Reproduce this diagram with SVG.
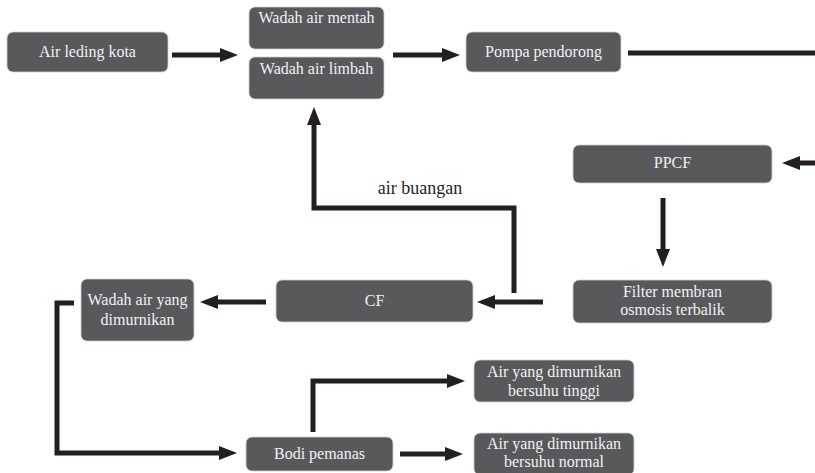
<svg xmlns="http://www.w3.org/2000/svg" width="815" height="473" viewBox="0 0 815 473">
<style>
.box{fill:#58595b;stroke:#d0d0d0;stroke-width:0.8}
.t{font-family:"Liberation Serif","Times New Roman",serif;font-size:16px;fill:#f2f2f2;text-anchor:middle}
.lbl{font-family:"Liberation Serif","Times New Roman",serif;font-size:18px;fill:#231f20;text-anchor:middle}
.c{fill:none;stroke:#231f20;stroke-width:5;stroke-linejoin:miter}
.ca{fill:none;stroke:#231f20;stroke-width:5;stroke-linejoin:miter;marker-end:url(#ah)}
</style>
<defs>
<marker id="ah" markerUnits="userSpaceOnUse" markerWidth="18" markerHeight="14" refX="0" refY="7" orient="auto" overflow="visible">
<path d="M0,0 L18,7 L0,14 Z" fill="#231f20"/>
</marker>
</defs>
<rect width="815" height="473" fill="#ffffff"/>
<g id="connectors">
<path class="ca" d="M172,55 H220"/>
<path class="ca" d="M393,55 H442"/>
<path class="c" d="M628,53 H815"/>
<path class="ca" d="M815,163 H800"/>
<path class="ca" d="M663,198 V249"/>
<path class="ca" d="M543,302 H495"/>
<path class="ca" d="M514,293 V208 H314 V125"/>
<path class="ca" d="M266,302 H218"/>
<path class="ca" d="M74,303 H57 V453 H219"/>
<path class="ca" d="M313,432 V381 H447"/>
<path class="ca" d="M400,454 H445"/>
<text class="lbl" x="420" y="194">air buangan</text>
</g>
<g id="air-leding-kota">
<rect class="box" x="7" y="32" width="161" height="40" rx="6"/>
<text class="t" x="87.5" y="57">Air leding kota</text>
</g>
<g id="wadah-air-mentah">
<rect class="box" x="249" y="7" width="135" height="42" rx="6"/>
<text class="t" x="316.5" y="23">Wadah air mentah</text>
</g>
<g id="wadah-air-limbah">
<rect class="box" x="249" y="57" width="135" height="42" rx="6"/>
<text class="t" x="316.5" y="74">Wadah air limbah</text>
</g>
<g id="pompa-pendorong">
<rect class="box" x="466" y="32" width="155" height="40" rx="6"/>
<text class="t" x="543.5" y="57">Pompa pendorong</text>
</g>
<g id="ppcf">
<rect class="box" x="573" y="145" width="199" height="38" rx="6"/>
<text class="t" x="672.5" y="168">PPCF</text>
</g>
<g id="filter-membran">
<rect class="box" x="573" y="280" width="199" height="43" rx="6"/>
<text class="t" x="672.5" y="297">Filter membran</text>
<text class="t" x="672.5" y="315">osmosis terbalik</text>
</g>
<g id="cf">
<rect class="box" x="276" y="280" width="197" height="42" rx="6"/>
<text class="t" x="374.5" y="306">CF</text>
</g>
<g id="wadah-air-dimurnikan">
<rect class="box" x="81" y="279" width="113" height="62" rx="6"/>
<text class="t" x="137.5" y="305">Wadah air yang</text>
<text class="t" x="137.5" y="325">dimurnikan</text>
</g>
<g id="bodi-pemanas">
<rect class="box" x="246" y="437" width="147" height="34" rx="6"/>
<text class="t" x="319.5" y="459">Bodi pemanas</text>
</g>
<g id="air-tinggi">
<rect class="box" x="474" y="360" width="160" height="42" rx="6"/>
<text class="t" x="554" y="377">Air yang dimurnikan</text>
<text class="t" x="554" y="396">bersuhu tinggi</text>
</g>
<g id="air-normal">
<rect class="box" x="474" y="433" width="160" height="42" rx="6"/>
<text class="t" x="554" y="449">Air yang dimurnikan</text>
<text class="t" x="554" y="467">bersuhu normal</text>
</g>
</svg>
